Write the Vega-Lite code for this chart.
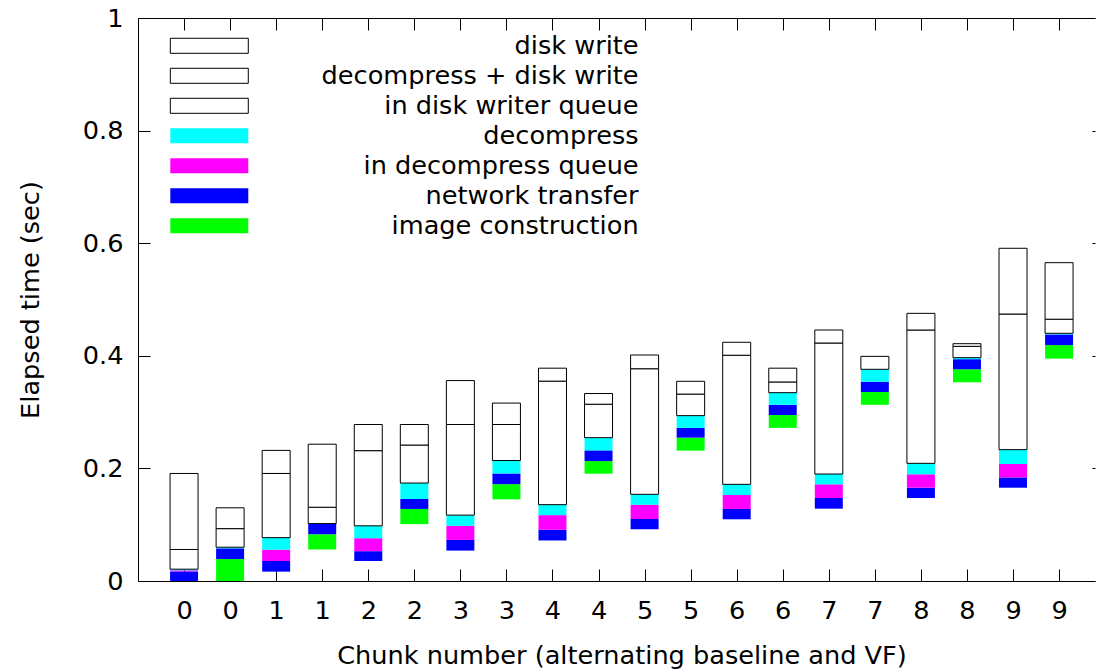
{
  "$schema": "https://vega.github.io/schema/vega-lite/v6.json",
  "width": 957,
  "height": 563,
  "autosize": {"type": "none"},
  "padding": {"left": 138, "top": 18, "right": 1, "bottom": 89},
  "config": {
    "font": "DejaVu Sans",
    "view": {"stroke": null},
    "axis": {
      "grid": false,
      "domainColor": "black",
      "domainWidth": 1,
      "tickColor": "black",
      "tickWidth": 1,
      "labelColor": "black",
      "labelFontSize": 25.6,
      "labelFont": "DejaVu Sans",
      "titleColor": "black",
      "titleFontSize": 25.6,
      "titleFont": "DejaVu Sans",
      "titleFontWeight": "normal"
    }
  },
  "data": {
    "values": [
      {"bar": 0, "stage": "network transfer", "start": 0.0, "end": 0.017},
      {"bar": 0, "stage": "in decompress queue", "start": 0.017, "end": 0.019},
      {"bar": 0, "stage": "decompress", "start": 0.019, "end": 0.021},
      {"bar": 0, "stage": "decompress + disk write", "start": 0.021, "end": 0.056},
      {"bar": 0, "stage": "disk write", "start": 0.056, "end": 0.191},
      {"bar": 1, "stage": "image construction", "start": 0.0, "end": 0.039},
      {"bar": 1, "stage": "network transfer", "start": 0.039, "end": 0.058},
      {"bar": 1, "stage": "decompress", "start": 0.058, "end": 0.06},
      {"bar": 1, "stage": "decompress + disk write", "start": 0.06, "end": 0.093},
      {"bar": 1, "stage": "disk write", "start": 0.093, "end": 0.13},
      {"bar": 2, "stage": "network transfer", "start": 0.0166, "end": 0.0355},
      {"bar": 2, "stage": "in decompress queue", "start": 0.0355, "end": 0.0556},
      {"bar": 2, "stage": "decompress", "start": 0.0556, "end": 0.077},
      {"bar": 2, "stage": "in disk writer queue", "start": 0.077, "end": 0.191},
      {"bar": 2, "stage": "disk write", "start": 0.191, "end": 0.232},
      {"bar": 3, "stage": "image construction", "start": 0.056, "end": 0.083},
      {"bar": 3, "stage": "network transfer", "start": 0.083, "end": 0.102},
      {"bar": 3, "stage": "decompress + disk write", "start": 0.102, "end": 0.131},
      {"bar": 3, "stage": "disk write", "start": 0.131, "end": 0.243},
      {"bar": 4, "stage": "network transfer", "start": 0.0355, "end": 0.053},
      {"bar": 4, "stage": "in decompress queue", "start": 0.053, "end": 0.076},
      {"bar": 4, "stage": "decompress", "start": 0.076, "end": 0.098},
      {"bar": 4, "stage": "in disk writer queue", "start": 0.098, "end": 0.2315},
      {"bar": 4, "stage": "disk write", "start": 0.2315, "end": 0.278},
      {"bar": 5, "stage": "image construction", "start": 0.101, "end": 0.128},
      {"bar": 5, "stage": "network transfer", "start": 0.128, "end": 0.1457},
      {"bar": 5, "stage": "decompress", "start": 0.1457, "end": 0.174},
      {"bar": 5, "stage": "in disk writer queue", "start": 0.174, "end": 0.2415},
      {"bar": 5, "stage": "disk write", "start": 0.2415, "end": 0.278},
      {"bar": 6, "stage": "network transfer", "start": 0.054, "end": 0.073},
      {"bar": 6, "stage": "in decompress queue", "start": 0.073, "end": 0.098},
      {"bar": 6, "stage": "decompress", "start": 0.098, "end": 0.117},
      {"bar": 6, "stage": "in disk writer queue", "start": 0.117, "end": 0.278},
      {"bar": 6, "stage": "disk write", "start": 0.278, "end": 0.356},
      {"bar": 7, "stage": "image construction", "start": 0.145, "end": 0.172},
      {"bar": 7, "stage": "network transfer", "start": 0.172, "end": 0.191},
      {"bar": 7, "stage": "decompress", "start": 0.191, "end": 0.214},
      {"bar": 7, "stage": "in disk writer queue", "start": 0.214, "end": 0.278},
      {"bar": 7, "stage": "disk write", "start": 0.278, "end": 0.316},
      {"bar": 8, "stage": "network transfer", "start": 0.072, "end": 0.091},
      {"bar": 8, "stage": "in decompress queue", "start": 0.091, "end": 0.117},
      {"bar": 8, "stage": "decompress", "start": 0.117, "end": 0.1356},
      {"bar": 8, "stage": "in disk writer queue", "start": 0.1356, "end": 0.355},
      {"bar": 8, "stage": "disk write", "start": 0.355, "end": 0.378},
      {"bar": 9, "stage": "image construction", "start": 0.1906, "end": 0.213},
      {"bar": 9, "stage": "network transfer", "start": 0.213, "end": 0.232},
      {"bar": 9, "stage": "decompress", "start": 0.232, "end": 0.2546},
      {"bar": 9, "stage": "in disk writer queue", "start": 0.2546, "end": 0.314},
      {"bar": 9, "stage": "disk write", "start": 0.314, "end": 0.333},
      {"bar": 10, "stage": "network transfer", "start": 0.0917, "end": 0.11},
      {"bar": 10, "stage": "in decompress queue", "start": 0.11, "end": 0.1356},
      {"bar": 10, "stage": "decompress", "start": 0.1356, "end": 0.154},
      {"bar": 10, "stage": "in disk writer queue", "start": 0.154, "end": 0.377},
      {"bar": 10, "stage": "disk write", "start": 0.377, "end": 0.4014},
      {"bar": 11, "stage": "image construction", "start": 0.2315, "end": 0.2546},
      {"bar": 11, "stage": "network transfer", "start": 0.2546, "end": 0.272},
      {"bar": 11, "stage": "decompress", "start": 0.272, "end": 0.2937},
      {"bar": 11, "stage": "in disk writer queue", "start": 0.2937, "end": 0.332},
      {"bar": 11, "stage": "disk write", "start": 0.332, "end": 0.3547},
      {"bar": 12, "stage": "network transfer", "start": 0.1096, "end": 0.128},
      {"bar": 12, "stage": "in decompress queue", "start": 0.128, "end": 0.1527},
      {"bar": 12, "stage": "decompress", "start": 0.1527, "end": 0.1717},
      {"bar": 12, "stage": "in disk writer queue", "start": 0.1717, "end": 0.401},
      {"bar": 12, "stage": "disk write", "start": 0.401, "end": 0.424},
      {"bar": 13, "stage": "image construction", "start": 0.272, "end": 0.2948},
      {"bar": 13, "stage": "network transfer", "start": 0.2948, "end": 0.313},
      {"bar": 13, "stage": "decompress", "start": 0.313, "end": 0.3345},
      {"bar": 13, "stage": "in disk writer queue", "start": 0.3345, "end": 0.3535},
      {"bar": 13, "stage": "disk write", "start": 0.3535, "end": 0.378},
      {"bar": 14, "stage": "network transfer", "start": 0.1285, "end": 0.1474},
      {"bar": 14, "stage": "in decompress queue", "start": 0.1474, "end": 0.1717},
      {"bar": 14, "stage": "decompress", "start": 0.1717, "end": 0.19},
      {"bar": 14, "stage": "in disk writer queue", "start": 0.19, "end": 0.4227},
      {"bar": 14, "stage": "disk write", "start": 0.4227, "end": 0.4458},
      {"bar": 15, "stage": "image construction", "start": 0.313, "end": 0.3357},
      {"bar": 15, "stage": "network transfer", "start": 0.3357, "end": 0.354},
      {"bar": 15, "stage": "decompress", "start": 0.354, "end": 0.376},
      {"bar": 15, "stage": "disk write", "start": 0.376, "end": 0.399},
      {"bar": 16, "stage": "network transfer", "start": 0.1474, "end": 0.1657},
      {"bar": 16, "stage": "in decompress queue", "start": 0.1657, "end": 0.1895},
      {"bar": 16, "stage": "decompress", "start": 0.1895, "end": 0.209},
      {"bar": 16, "stage": "in disk writer queue", "start": 0.209, "end": 0.4458},
      {"bar": 16, "stage": "disk write", "start": 0.4458, "end": 0.4754},
      {"bar": 17, "stage": "image construction", "start": 0.353, "end": 0.376},
      {"bar": 17, "stage": "network transfer", "start": 0.376, "end": 0.394},
      {"bar": 17, "stage": "decompress", "start": 0.394, "end": 0.3967},
      {"bar": 17, "stage": "decompress + disk write", "start": 0.3967, "end": 0.4168},
      {"bar": 17, "stage": "disk write", "start": 0.4168, "end": 0.4215},
      {"bar": 18, "stage": "network transfer", "start": 0.1657, "end": 0.184},
      {"bar": 18, "stage": "in decompress queue", "start": 0.184, "end": 0.2078},
      {"bar": 18, "stage": "decompress", "start": 0.2078, "end": 0.2333},
      {"bar": 18, "stage": "in disk writer queue", "start": 0.2333, "end": 0.4742},
      {"bar": 18, "stage": "disk write", "start": 0.4742, "end": 0.591},
      {"bar": 19, "stage": "image construction", "start": 0.395, "end": 0.419},
      {"bar": 19, "stage": "network transfer", "start": 0.419, "end": 0.438},
      {"bar": 19, "stage": "decompress", "start": 0.438, "end": 0.44},
      {"bar": 19, "stage": "decompress + disk write", "start": 0.44, "end": 0.465},
      {"bar": 19, "stage": "disk write", "start": 0.465, "end": 0.5654}
    ]
  },
  "resolve": {"axis": {"x": "independent", "y": "independent"}},
  "layer": [
    {
      "mark": {"type": "bar", "width": 28, "strokeWidth": 1, "opacity": 1},
      "encoding": {
        "x": {
          "field": "bar",
          "type": "quantitative",
          "scale": {"domain": [-1, 19.78], "nice": false, "zero": false, "padding": 0},
          "axis": {
            "orient": "bottom",
            "values": [0, 1, 2, 3, 4, 5, 6, 7, 8, 9, 10, 11, 12, 13, 14, 15, 16, 17, 18, 19],
            "labelExpr": "floor(datum.value / 2)",
            "tickSize": -12,
            "labelPadding": 29,
            "labelFlush": false,
            "labelOverlap": false,
            "title": "Chunk number (alternating baseline and VF)",
            "titleX": 483.5,
            "titleY": 82,
            "titleAlign": "center",
            "titleBaseline": "alphabetic"
          }
        },
        "y": {
          "field": "start",
          "type": "quantitative",
          "scale": {"domain": [0, 1], "nice": false},
          "axis": {
            "orient": "left",
            "values": [0, 0.2, 0.4, 0.6, 0.8, 1],
            "format": "~g",
            "tickSize": -12,
            "labelPadding": 27,
            "labelFlush": false,
            "labelOverlap": false,
            "title": "Elapsed time (sec)",
            "titleX": -100,
            "titleY": 281.5,
            "titleAngle": 270,
            "titleAlign": "center",
            "titleBaseline": "alphabetic"
          }
        },
        "y2": {"field": "end"},
        "fill": {
          "field": "stage",
          "type": "nominal",
          "scale": {
            "domain": ["disk write", "decompress + disk write", "in disk writer queue", "decompress", "in decompress queue", "network transfer", "image construction"],
            "range": ["#ffffff", "#ffffff", "#ffffff", "#00ffff", "#ff00ff", "#0000ff", "#00ff00"]
          },
          "legend": {
            "orient": "none",
            "legendX": 58.5,
            "legendY": 15,
            "title": null,
            "padding": 0,
            "symbolType": "M-4,-0.77H4V0.77H-4Z",
            "symbolSize": 380,
            "symbolStrokeWidth": 1,
            "labelAlign": "right",
            "labelOffset": 416.5,
            "labelLimit": 600,
            "labelFontSize": 25.6,
            "labelColor": "black",
            "labelFont": "DejaVu Sans",
            "rowPadding": 3
          }
        },
        "stroke": {
          "field": "stage",
          "type": "nominal",
          "scale": {
            "domain": ["disk write", "decompress + disk write", "in disk writer queue", "decompress", "in decompress queue", "network transfer", "image construction"],
            "range": ["#000000", "#000000", "#000000", "transparent", "transparent", "transparent", "transparent"]
          },
          "legend": {
            "orient": "none",
            "legendX": 58.5,
            "legendY": 15,
            "title": null,
            "padding": 0,
            "symbolType": "M-4,-0.77H4V0.77H-4Z",
            "symbolSize": 380,
            "symbolStrokeWidth": 1,
            "labelAlign": "right",
            "labelOffset": 416.5,
            "labelLimit": 600,
            "labelFontSize": 25.6,
            "labelColor": "black",
            "labelFont": "DejaVu Sans",
            "rowPadding": 3
          }
        }
      }
    },
    {
      "mark": {"type": "point", "opacity": 0},
      "encoding": {
        "x": {
          "field": "bar",
          "type": "quantitative",
          "axis": {
            "orient": "top",
            "values": [0, 1, 2, 3, 4, 5, 6, 7, 8, 9, 10, 11, 12, 13, 14, 15, 16, 17, 18, 19],
            "labels": false,
            "tickSize": -12,
            "title": null
          }
        },
        "y": {
          "field": "start",
          "type": "quantitative",
          "axis": {
            "orient": "right",
            "values": [0, 0.2, 0.4, 0.6, 0.8, 1],
            "labels": false,
            "domain": false,
            "tickSize": -3,
            "title": null
          }
        }
      }
    }
  ]
}
